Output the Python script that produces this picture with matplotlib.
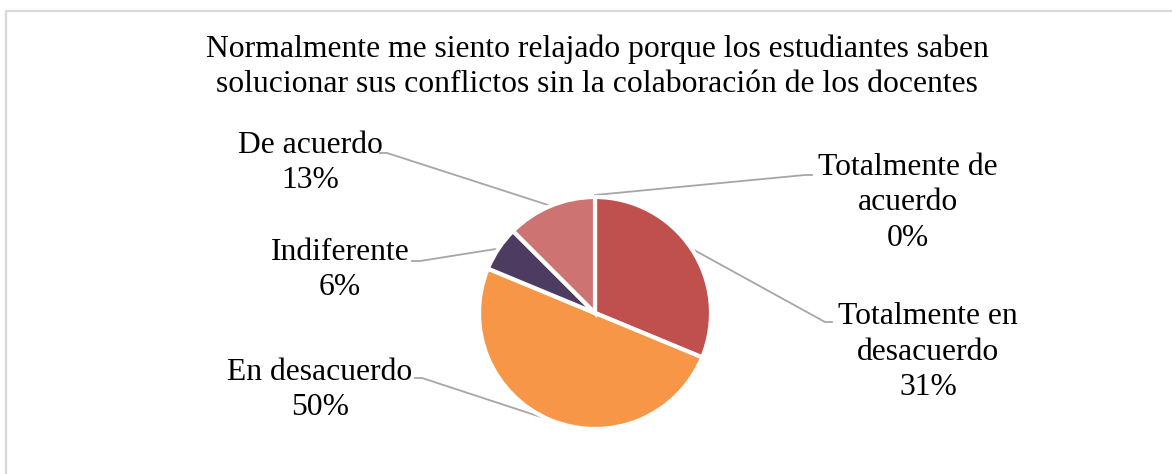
import matplotlib
matplotlib.use("Agg")
import matplotlib.pyplot as plt
import numpy as np

title = "Normalmente me siento relajado porque los estudiantes saben\nsolucionar sus conflictos sin la colaboración de los docentes"
categories = ["Totalmente de\nacuerdo", "Totalmente en\ndesacuerdo", "En desacuerdo", "Indiferente", "De acuerdo"]
counts = [0, 5, 8, 1, 2]
colors = ["#9BBB59", "#C0504D", "#F79646", "#4E3B62", "#CD7371"]

W, H = 1172, 474
fig = plt.figure(figsize=(W / 100, H / 100), dpi=100)
plt.rcParams['font.family'] = ['Liberation Serif', 'DejaVu Serif']

# overlay in pixel coordinates
ov = fig.add_axes([0, 0, 1, 1])
ov.set_xlim(0, W)
ov.set_ylim(H, 0)
ov.axis("off")
ov.plot([6, 6, W], [H, 11, 11], color="#D9D9D9", lw=1.6, solid_capstyle="butt")

cx, cy, R = 595, 313, 116
pax = fig.add_axes([(cx - R) / W, (H - cy - R) / H, 2 * R / W, 2 * R / H])
wedges, _ = pax.pie(counts, colors=colors, startangle=90, counterclock=False,
                    radius=1.0, wedgeprops=dict(edgecolor="white", linewidth=3.0))
pax.set_xlim(-1, 1)
pax.set_ylim(-1, 1)
pax.axis("off")

total = sum(counts)
pcts = [int(c / total * 100 + 0.5) for c in counts]

# label positions (pixel) : text center, horizontal end, bend point
label_pos = [
    ((908, 203), (812, 175), (805, 175)),
    ((928, 352), (832, 322), (825, 322)),
    ((320, 390), (415, 378), (422, 378)),
    ((340, 270), (412, 261), (420, 261)),
    ((310, 163), (380, 153), (387, 153)),
]

fs = 22.8
for w, cat, p, (tpos, hend, lend) in zip(wedges, categories, pcts, label_pos):
    ang = np.deg2rad((w.theta1 + w.theta2) / 2)
    sx = cx + R * 1.0 * np.cos(ang)
    sy = cy - R * 1.0 * np.sin(ang)
    if w.theta2 - w.theta1 < 1e-6:
        sy = cy - R - 2
    ov.plot([sx, lend[0], hend[0]], [sy, lend[1], hend[1]], color="#A6A6A6", lw=1.3)
    ov.text(tpos[0], tpos[1], f"{cat}\n{p}%", ha="center", va="center",
            fontsize=fs, linespacing=1.3, color="black")

fig.text(597 / W, 1 - 67 / H, title, ha="center", va="center", fontsize=fs,
         linespacing=1.25, color="black")

fig.savefig("out.png", dpi=100, facecolor="white")
